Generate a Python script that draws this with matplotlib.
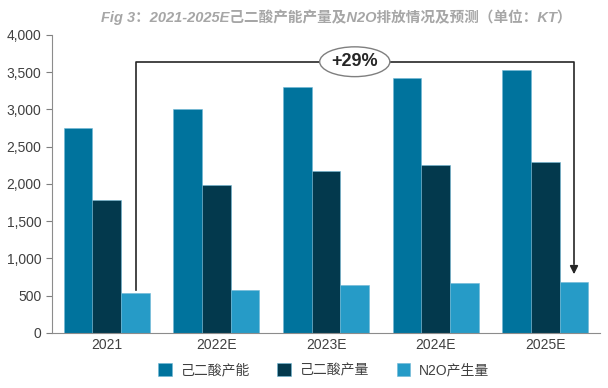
import numpy as np
import matplotlib.pyplot as plt
from matplotlib.patches import Ellipse

plt.rcParams['font.family'] = ['Liberation Sans', 'Noto Sans CJK SC', 'DejaVu Sans']

years = ["2021", "2022E", "2023E", "2024E", "2025E"]
capacity = [2750, 3000, 3300, 3420, 3530]
output = [1780, 1980, 2180, 2260, 2300]
n2o = [530, 580, 640, 670, 680]
labels = ["己二酸产能", "己二酸产量", "N2O产生量"]
colors = ["#00739d", "#03394d", "#269bc7"]
growth_label = "+29%"

fig = plt.figure(figsize=(6.08, 3.88), dpi=100)
ax = fig.add_axes([0.0855, 0.142, 0.9015, 0.768])

x = np.arange(len(years))
w = 0.262
for i, (vals, lab, c) in enumerate(zip([capacity, output, n2o], labels, colors)):
    ax.bar(x + (i - 1) * w, vals, width=w, color=c, edgecolor="#6fb8d6", linewidth=0.4, label=lab, zorder=2)

ax.set_xlim(-0.5, 4.5)
ax.set_ylim(0, 4000)
ax.set_yticks(np.arange(0, 4001, 500))
ax.set_yticklabels([f"{v:,}" for v in range(0, 4001, 500)])
ax.set_xticks(x)
ax.set_xticklabels(years)
ax.tick_params(axis='y', colors="#7f7f7f", labelcolor="#404040", labelsize=10, length=4)
ax.tick_params(axis='x', length=0, labelcolor="#404040", labelsize=10, pad=4)
for s in ["top", "right"]:
    ax.spines[s].set_visible(False)
ax.spines["left"].set_color("#8c8c8c")
ax.spines["bottom"].set_color("#8c8c8c")

# growth bracket
x0 = x[0] + w
x1 = x[-1] + w
ytop = 3640
ax.plot([x0, x0, x1, x1], [n2o[0] + 50, ytop, ytop, n2o[-1] + 250], color="#262626", lw=1.2, zorder=3)
ax.annotate("", xy=(x1, n2o[-1] + 70), xytext=(x1, n2o[-1] + 260),
            arrowprops=dict(arrowstyle="-|>", color="#262626", lw=1.2, mutation_scale=12), zorder=3)
xm = (x0 + x1) / 2
ax.add_patch(Ellipse((xm, ytop), 0.64, 400, facecolor="white", edgecolor="#7f7f7f", lw=1, zorder=4, clip_on=False))
ax.text(xm, ytop, growth_label, ha="center", va="center", fontsize=13, fontweight="bold", color="#262626", zorder=5)

fig.text(0.553, 0.955, "Fig 3：2021-2025E己二酸产能产量及N2O排放情况及预测（单位：KT）",
         ha="center", va="center", fontsize=10.5, fontweight="bold", style="italic", color="#a6a6a6")

fig.legend(loc="lower center", bbox_to_anchor=(0.532, -0.005), ncol=3, frameon=False, fontsize=10,
           handlelength=1.0, handleheight=1.0, columnspacing=2.0, handletextpad=0.6, labelcolor="#404040")

fig.savefig("out.png", dpi=100)
